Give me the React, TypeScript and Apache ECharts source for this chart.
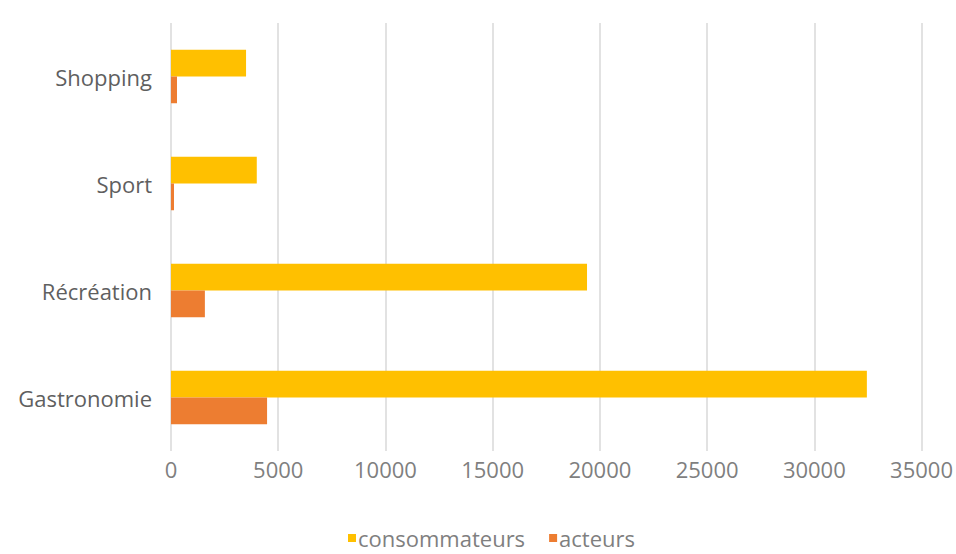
import React, { useEffect, useRef } from "react";
import * as echarts from "echarts";

const categories = ["Gastronomie", "Récréation", "Sport", "Shopping"];
const consommateurs = [32450, 19400, 4000, 3500];
const acteurs = [4480, 1580, 140, 280];
const xTicks = [0, 5000, 10000, 15000, 20000, 25000, 30000, 35000];

export default function App() {
  const ref = useRef<HTMLDivElement>(null);
  useEffect(() => {
    const chart = echarts.init(ref.current!, null, { renderer: "svg" });
    const font = "'Open Sans', 'Noto Sans', sans-serif";
    chart.setOption({
      animation: false,
      grid: { left: 171, right: 34, top: 23, bottom: 103 },
      legend: {
        bottom: 0,
        left: 343,
        data: ["consommateurs", "acteurs"],
        itemWidth: 8,
        itemHeight: 8,
        itemGap: 24,
        icon: "rect",
        textStyle: { color: "#7f7f7f", fontSize: 22, fontFamily: font, padding: [0, 0, 0, -3] },
      },
      xAxis: {
        type: "value",
        min: xTicks[0],
        max: xTicks[xTicks.length - 1],
        interval: 5000,
        axisLine: { show: false },
        axisTick: { show: false },
        splitLine: { lineStyle: { color: "#d9d9d9", width: 1.5 } },
        axisLabel: {
          color: "#7f7f7f",
          fontSize: 22,
          fontFamily: font,
          margin: 7,
          formatter: (v: number) => String(v),
        },
      },
      yAxis: {
        type: "category",
        data: categories,
        axisLine: { show: false },
        axisTick: { show: false },
        axisLabel: { color: "#5f5f5f", fontSize: 22, fontFamily: font, margin: 19 },
      },
      series: [
        {
          name: "consommateurs",
          type: "bar",
          data: consommateurs,
          itemStyle: { color: "#FFC000" },
          barWidth: "25%",
          barGap: "0%",
        },
        {
          name: "acteurs",
          type: "bar",
          data: acteurs,
          itemStyle: { color: "#ED7D31" },
          barWidth: "25%",
          barGap: "0%",
        },
      ],
    });
    return () => chart.dispose();
  }, []);
  return <div ref={ref} style={{ width: 956, height: 554, position: "absolute", left: 0, top: 0 }} />;
}
